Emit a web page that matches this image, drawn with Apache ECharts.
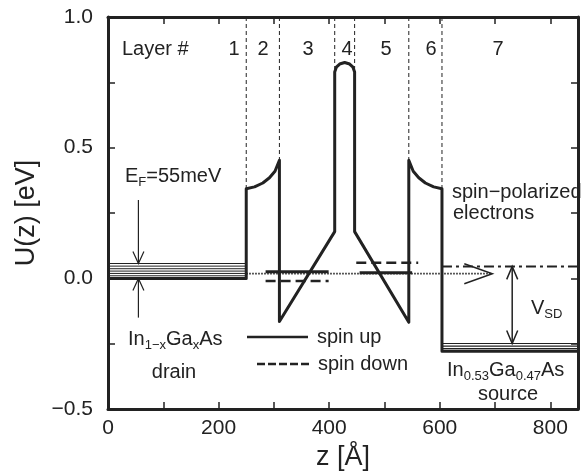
<!DOCTYPE html>
<html><head><meta charset="utf-8">
<script src="https://cdn.jsdelivr.net/npm/echarts@6/dist/echarts.min.js"></script>
<style>html,body{margin:0;padding:0;background:#fff}#c{width:581px;height:476px}</style>
</head><body><div id="c"></div>
<script>
// ---------- data (z in Å, U in eV) ----------
const profileZ = [0, 250, 250, 265, 280, 292, 302, 310, 310, 410, 410, 413, 419, 428, 437, 443, 446, 446, 544, 544, 552, 562, 574, 589, 604, 604, 850];
const profileU = [0, 0, 0.343, 0.350, 0.365, 0.385, 0.41, 0.452, -0.165, 0.179, 0.79, 0.808, 0.82, 0.826, 0.82, 0.808, 0.79, 0.179, -0.168, 0.452, 0.41, 0.385, 0.365, 0.350, 0.343, -0.279, -0.279];

const layerBoundaryZ = [250, 310, 410, 446, 544, 604];
const layerBoundaryLowU = [0.343, 0.452, 0.80, 0.80, 0.452, 0.343];
const layerNames = ['1', '2', '3', '4', '5', '6', '7'];

const drainZ = [0, 250];
const drainLevelsU = [0.057, 0.047, 0.037, 0.028, 0.019, 0.010];
const sourceZ = [604, 850];
const sourceLevelsU = [-0.249, -0.259, -0.269];

const spinUpStartZ = [285, 455];
const spinUpEndZ = [399, 550];
const spinUpU = [0.025, 0.022];
const spinDownStartZ = [285, 449];
const spinDownEndZ = [399, 561];
const spinDownU = [-0.010, 0.060];

const transportZ = [250, 695];
const transportU = 0.018;
const sourceFermiZ = [604, 850];
const sourceFermiU = 0.046;
const vsdZ = 731;
const vsdU = [0.046, -0.249];
const efArrowZ = 55;
const efDownU = [0.30, 0.057];
const efUpU = [-0.15, 0.0];

const xTicks = [0, 200, 400, 600, 800];
const yTicks = [-0.5, 0.0, 0.5, 1.0];

// ---------- chart ----------
const INK = '#222';
const FONT = '"Liberation Sans", Arial, Helvetica, sans-serif';
const chart = echarts.init(document.getElementById('c'), null, {renderer: 'canvas'});

function segSeries(name, segs, style) {
  return {
    type: 'custom', name, silent: true, coordinateSystem: 'cartesian2d',
    encode: {x: [0, 2], y: [1, 3]}, data: segs, clip: false,
    renderItem: (params, api) => {
      const a = api.coord([api.value(0), api.value(1)]);
      const b = api.coord([api.value(2), api.value(3)]);
      return {type: 'line', shape: {x1: a[0], y1: a[1], x2: b[0], y2: b[1]},
        style: Object.assign({stroke: INK, fill: null, lineWidth: 1}, style)};
    }
  };
}
function headPts(tip, from, len, half) {
  const dx = tip[0] - from[0], dy = tip[1] - from[1];
  const d = Math.hypot(dx, dy) || 1, ux = dx / d, uy = dy / d;
  const bx = tip[0] - ux * len, by = tip[1] - uy * len;
  return [[bx - uy * half, by + ux * half], [tip[0], tip[1]], [bx + uy * half, by - ux * half]];
}
function arrowSeries(name, segs, lineStyle, head) {
  return {
    type: 'custom', name, silent: true, coordinateSystem: 'cartesian2d',
    encode: {x: [0, 2], y: [1, 3]}, data: segs, clip: false,
    renderItem: (params, api) => {
      const a = api.coord([api.value(0), api.value(1)]);
      const b = api.coord([api.value(2), api.value(3)]);
      const hs = {stroke: INK, fill: null, lineWidth: head.width};
      const ch = [{type: 'line', shape: {x1: a[0], y1: a[1], x2: b[0], y2: b[1]},
        style: Object.assign({stroke: INK, fill: null, lineWidth: 1}, lineStyle)}];
      if (head.end) ch.push({type: 'polyline', shape: {points: headPts(b, a, head.len, head.half)}, style: hs});
      if (head.start) ch.push({type: 'polyline', shape: {points: headPts(a, b, head.len, head.half)}, style: hs});
      return {type: 'group', children: ch};
    }
  };
}

const profileData = profileZ.map((z, i) => [z, profileU[i]]);
const layerSegs = layerBoundaryZ.map((z, i) => [z, 1.0, z, layerBoundaryLowU[i]]);
const drainSegs = drainLevelsU.map(u => [drainZ[0], u, drainZ[1], u]);
const sourceSegs = sourceLevelsU.map(u => [sourceZ[0], u, sourceZ[1], u]);
const upSegs = spinUpU.map((u, i) => [spinUpStartZ[i], u, spinUpEndZ[i], u]);
const downSegs = spinDownU.map((u, i) => [spinDownStartZ[i], u, spinDownEndZ[i], u]);

const axisCommon = {
  type: 'value', axisLine: {show: true, onZero: false, lineStyle: {color: INK, width: 3}},
  axisTick: {show: true, inside: true, length: 7, lineStyle: {color: INK, width: 1.5}},
  splitLine: {show: false}
};
function yFmt(v) {
  const r = Math.round(v * 100) / 100;
  if (!yTicks.some(t => Math.abs(t - r) < 1e-6)) return '';
  return (r < 0 ? '\u2212' : '') + Math.abs(r).toFixed(1);
}

const rich = {
  n: {fontSize: 20, fontFamily: FONT, color: INK},
  s: {fontSize: 13, fontFamily: FONT, color: INK, padding: [12, 0, 0, 0]}
};
function txt(x, y, text, align, extra) {
  return Object.assign({type: 'text', x, y, silent: true, z: 100,
    style: {text, fill: INK, font: '20px ' + FONT, align: align || 'left', verticalAlign: 'middle',
      textAlign: align || 'left', textVerticalAlign: 'middle', rich}}, extra || {});
}
const layerLabelX = [234, 263, 308, 347, 386, 431, 498];

const option = {
  backgroundColor: '#fff',
  animation: false,
  grid: {left: 108, right: -4, top: 17, bottom: 66, containLabel: false},
  xAxis: [
    Object.assign({}, axisCommon, {position: 'bottom', min: 0, max: 850, interval: 100,
      axisLabel: {margin: 9, color: INK, fontSize: 21, fontFamily: FONT,
        formatter: v => xTicks.indexOf(v) >= 0 ? String(v) : ''},
      name: 'z [Å]', nameLocation: 'middle', nameGap: 31,
      nameTextStyle: {color: INK, fontSize: 27, fontFamily: FONT}}),
    Object.assign({}, axisCommon, {position: 'top', min: 0, max: 850, interval: 100, axisLabel: {show: false}})
  ],
  yAxis: [
    Object.assign({}, axisCommon, {position: 'left', min: -0.5, max: 1.0, interval: 0.25,
      axisLabel: {margin: 15, color: INK, fontSize: 21, fontFamily: FONT, formatter: yFmt},
      name: 'U(z) [eV]', nameLocation: 'middle', nameGap: 68,
      nameTextStyle: {color: INK, fontSize: 27, fontFamily: FONT}}),
    Object.assign({}, axisCommon, {position: 'right', min: -0.5, max: 1.0, interval: 0.25, axisLabel: {show: false}})
  ],
  series: [
    segSeries('layers', layerSegs, {lineWidth: 1, lineDash: [4, 3]}),
    segSeries('drain', drainSegs, {lineWidth: 1}),
    segSeries('source', sourceSegs, {lineWidth: 1.2}),
    segSeries('sourceFermi', [[sourceFermiZ[0], sourceFermiU, sourceFermiZ[1], sourceFermiU]], {lineWidth: 2, lineDash: [10, 4, 3, 4]}),
    arrowSeries('transport', [[transportZ[0], transportU, transportZ[1], transportU]], {lineWidth: 1.8, lineDash: [1.5, 1.5]}, {end: true, len: 28, half: 10, width: 1.5}),
    arrowSeries('vsd', [[vsdZ, vsdU[0], vsdZ, vsdU[1]]], {lineWidth: 1.5}, {start: true, end: true, len: 13, half: 5.5, width: 1.5}),
    arrowSeries('efDown', [[efArrowZ, efDownU[0], efArrowZ, efDownU[1]]], {lineWidth: 1.2}, {end: true, len: 12, half: 5.5, width: 1.2}),
    arrowSeries('efUp', [[efArrowZ, efUpU[0], efArrowZ, efUpU[1]]], {lineWidth: 1.2}, {end: true, len: 12, half: 5.5, width: 1.2}),
    segSeries('spinDown', downSegs, {lineWidth: 2.5, lineDash: [10, 5]}),
    segSeries('spinUp', upSegs, {lineWidth: 3}),
    {type: 'line', name: 'U(z)', data: profileData, showSymbol: false, symbol: 'none', silent: true,
      lineStyle: {color: INK, width: 3, join: 'round'}, z: 5}
  ],
  graphic: [
    txt(122, 49, 'Layer #'),
    ...layerNames.map((n, i) => txt(layerLabelX[i], 49, n, 'center')),
    txt(125, 176, '{n|E}{s|F}{n|=55meV}'),
    txt(128, 339, '{n|In}{s|1\u2212x}{n|Ga}{s|x}{n|As}'),
    txt(174, 372, 'drain', 'center'),
    {type: 'line', silent: true, shape: {x1: 247, y1: 337, x2: 308, y2: 337}, style: {stroke: INK, lineWidth: 2.5}},
    txt(317, 337, 'spin up'),
    {type: 'line', silent: true, shape: {x1: 257, y1: 364, x2: 312, y2: 364}, style: {stroke: INK, lineWidth: 2.5, lineDash: [8, 3]}},
    txt(318, 364, 'spin down'),
    txt(452, 192, 'spin\u2212polarized'),
    txt(453, 213, 'electrons'),
    txt(531, 308, '{n|V}{s|SD}'),
    txt(447, 370, '{n|In}{s|0.53}{n|Ga}{s|0.47}{n|As}'),
    txt(508, 394, 'source', 'center')
  ]
};
chart.setOption(option);
</script></body></html>
